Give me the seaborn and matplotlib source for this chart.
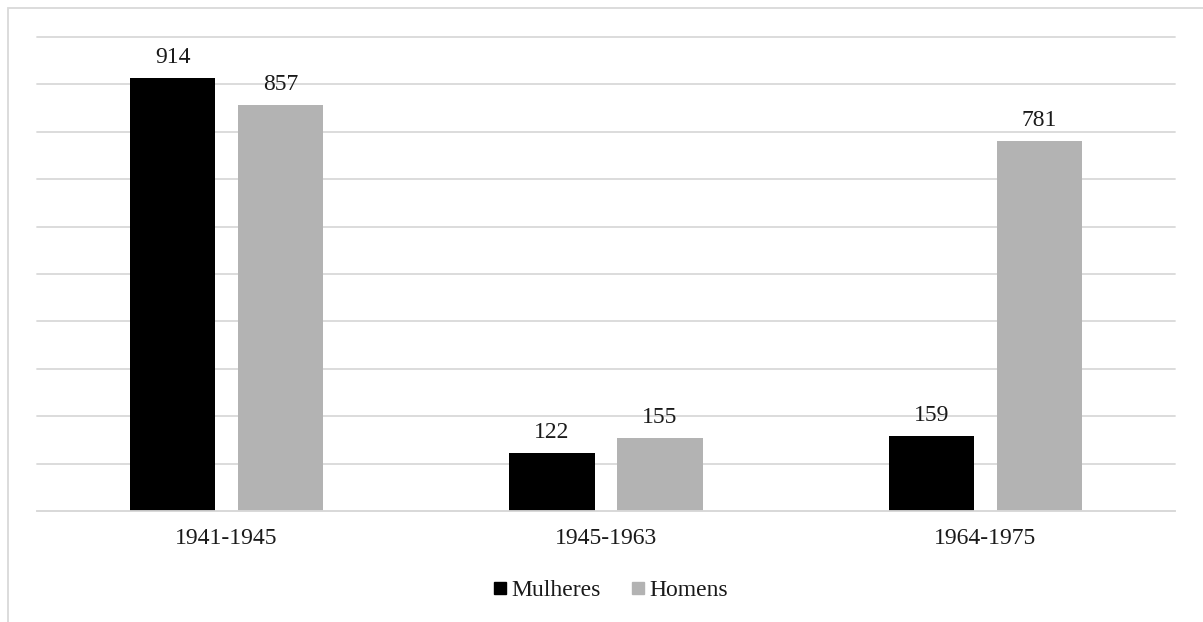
import matplotlib
matplotlib.use("Agg")
import matplotlib.pyplot as plt
from matplotlib.patches import Rectangle
from matplotlib.lines import Line2D
import seaborn as sns
import pandas as pd

periods = ["1941-1945", "1945-1963", "1964-1975"]
series = ["Mulheres", "Homens"]
mulheres = [914, 122, 159]
homens = [857, 155, 781]
colors = ["#000000", "#b3b3b3"]
grid_color = "#d9d9d9"
text_color = "#1a1a1a"

df = pd.DataFrame({
    "periodo": periods * 2,
    "grupo": [series[0]] * 3 + [series[1]] * 3,
    "valor": mulheres + homens,
})

sns.set_theme(style="white")
plt.rcParams["font.family"] = ["Liberation Serif", "DejaVu Serif"]

W, H = 1203, 622
FS = 17
fig = plt.figure(figsize=(W / 100, H / 100), dpi=100)
ax = fig.add_axes([37 / W, 1 - 511 / H, (1175 - 37) / W, (511 - 37) / H])

sns.barplot(data=df, x="periodo", y="valor", hue="grupo", order=periods,
            hue_order=series, palette=colors, width=0.57, gap=0.21,
            saturation=1, linewidth=0, legend=False, ax=ax)

for cont in ax.containers:
    ax.bar_label(cont, padding=7, fontsize=FS, color=text_color)

ax.set_ylim(0, 1000)
ax.set_yticks(range(0, 1001, 100))
ax.yaxis.grid(True, color=grid_color, linewidth=1.3)
for gl in ax.get_ygridlines():
    gl.set_clip_on(False)
ax.set_axisbelow(True)
ax.tick_params(axis="y", left=False, labelleft=False)
ax.tick_params(axis="x", bottom=False, pad=6, labelsize=FS, labelcolor=text_color)
ax.set_xlabel("")
ax.set_ylabel("")
for side in ["top", "right", "left"]:
    ax.spines[side].set_visible(False)
ax.spines["bottom"].set_color(grid_color)
ax.spines["bottom"].set_linewidth(1.3)

handles = [Line2D([], [], marker="s", linestyle="none", markersize=8.5,
                  markerfacecolor=c, markeredgecolor=c) for c in colors]
fig.legend(handles, series, loc="center", bbox_to_anchor=(610 / W, 1 - 590 / H),
           ncol=2, frameon=False, fontsize=FS, handletextpad=0.15,
           columnspacing=1.2, handlelength=0.7, labelcolor=text_color)

fig.add_artist(Rectangle((8 / W, -0.1), 1.2, 1 + 0.1 - 8 / H, transform=fig.transFigure,
                         fill=False, edgecolor=grid_color, linewidth=1.3))

fig.savefig("out.png", dpi=100)
